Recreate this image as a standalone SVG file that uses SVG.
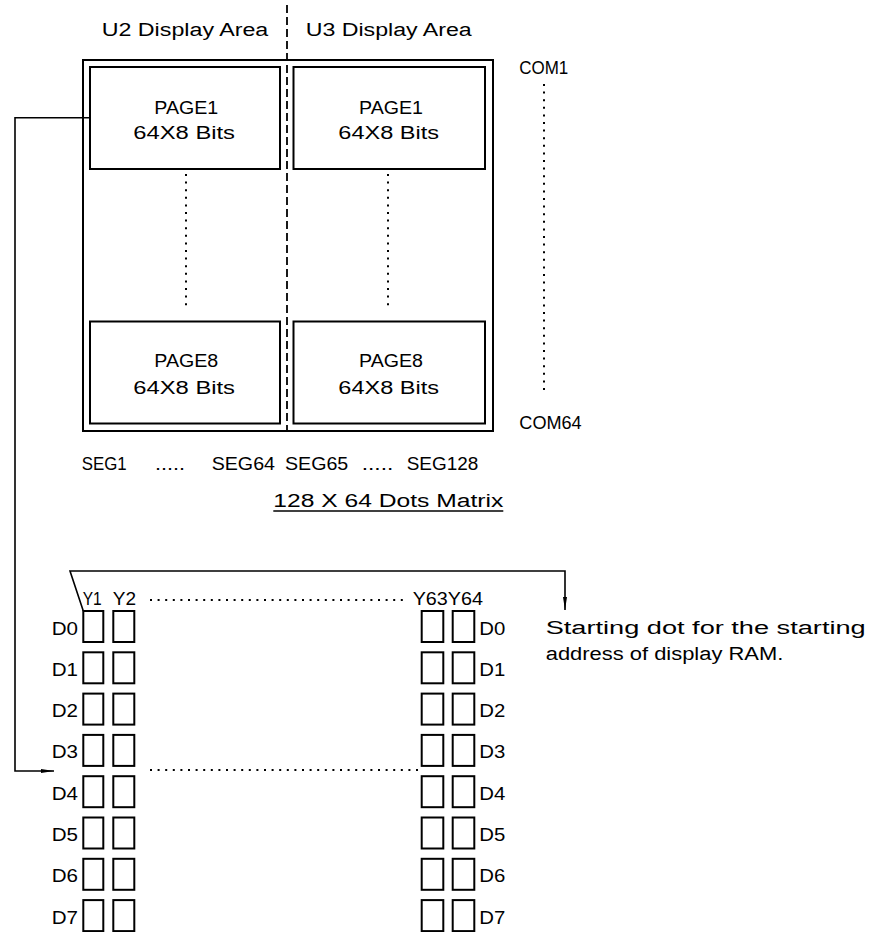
<svg xmlns="http://www.w3.org/2000/svg" width="869" height="932" viewBox="0 0 869 932">
<style>
  .t { font-family: "Liberation Sans", Arial, sans-serif; font-size: 18px; fill: #000; }
  .box { fill: none; stroke: #000; stroke-width: 2; }
  .cell { fill: none; stroke: #000; stroke-width: 2; }
  .line { fill: none; stroke: #000; stroke-width: 1.6; }
  .dot { fill: none; stroke: #000; stroke-width: 2; stroke-dasharray: 2 5.6; }
  .dash { fill: none; stroke: #000; stroke-width: 1.8; stroke-dasharray: 8 4; }
</style>
<defs>
  <marker id="arr" markerWidth="14" markerHeight="6" refX="13" refY="3" orient="auto" markerUnits="userSpaceOnUse">
    <path d="M0,1 L13,3 L0,5 Z" fill="#000"/>
  </marker>
</defs>
<rect width="869" height="932" fill="#fff"/>

<g id="labels-top">
  <text class="t" x="101.7" y="36" textLength="166.6" lengthAdjust="spacingAndGlyphs">U2 Display Area</text>
  <text class="t" x="305.7" y="36" textLength="166" lengthAdjust="spacingAndGlyphs">U3 Display Area</text>
</g>

<g id="display-area">
  <rect class="box" x="83" y="60" width="410" height="371"/>
  <line class="dash" x1="287" y1="5" x2="287" y2="431"/>
</g>

<g id="u2-page1">
  <rect class="box" x="90" y="67" width="190" height="102"/>
  <text class="t" x="154.3" y="114" textLength="64" lengthAdjust="spacingAndGlyphs">PAGE1</text>
  <text class="t" x="133.3" y="139" textLength="101.7" lengthAdjust="spacingAndGlyphs">64X8 Bits</text>
</g>
<g id="u3-page1">
  <rect class="box" x="293.5" y="67" width="191.5" height="102"/>
  <text class="t" x="359" y="114" textLength="64" lengthAdjust="spacingAndGlyphs">PAGE1</text>
  <text class="t" x="338.3" y="139" textLength="100.7" lengthAdjust="spacingAndGlyphs">64X8 Bits</text>
</g>
<g id="u2-page8">
  <rect class="box" x="90" y="321.5" width="190" height="102"/>
  <text class="t" x="154.3" y="367" textLength="64" lengthAdjust="spacingAndGlyphs">PAGE8</text>
  <text class="t" x="133.3" y="394" textLength="101.7" lengthAdjust="spacingAndGlyphs">64X8 Bits</text>
</g>
<g id="u3-page8">
  <rect class="box" x="293.5" y="321.5" width="191.5" height="102"/>
  <text class="t" x="359" y="367" textLength="64" lengthAdjust="spacingAndGlyphs">PAGE8</text>
  <text class="t" x="338.3" y="394" textLength="100.7" lengthAdjust="spacingAndGlyphs">64X8 Bits</text>
</g>

<g id="page-dots">
  <line class="dot" x1="186" y1="174" x2="186" y2="310"/>
  <line class="dot" x1="388" y1="174" x2="388" y2="310"/>
</g>

<g id="com">
  <text class="t" x="519.3" y="74" textLength="49" lengthAdjust="spacingAndGlyphs">COM1</text>
  <line class="dot" x1="544" y1="84" x2="544" y2="390"/>
  <text class="t" x="519.3" y="429" textLength="62.4" lengthAdjust="spacingAndGlyphs">COM64</text>
</g>

<g id="seg">
  <text class="t" x="81.7" y="470" textLength="45" lengthAdjust="spacingAndGlyphs">SEG1</text>
  <text class="t" x="155" y="470" textLength="30" lengthAdjust="spacingAndGlyphs">.....</text>
  <text class="t" x="211.7" y="470" textLength="63.3" lengthAdjust="spacingAndGlyphs">SEG64</text>
  <text class="t" x="285" y="470" textLength="63.3" lengthAdjust="spacingAndGlyphs">SEG65</text>
  <text class="t" x="361.7" y="470" textLength="31.6" lengthAdjust="spacingAndGlyphs">.....</text>
  <text class="t" x="406.7" y="470" textLength="71.6" lengthAdjust="spacingAndGlyphs">SEG128</text>
</g>

<g id="title">
  <text class="t" x="273.3" y="507" textLength="230" lengthAdjust="spacingAndGlyphs">128 X 64 Dots Matrix</text>
  <line x1="273.3" y1="511" x2="503.3" y2="511" stroke="#000" stroke-width="1.4"/>
</g>

<g id="ram-columns">
  <text class="t" x="82.7" y="605" textLength="19" lengthAdjust="spacingAndGlyphs">Y1</text>
  <text class="t" x="112.7" y="605" textLength="23.3" lengthAdjust="spacingAndGlyphs">Y2</text>
  <text class="t" x="412.7" y="605" textLength="70.3" lengthAdjust="spacingAndGlyphs">Y63Y64</text>
  <line class="dot" x1="150" y1="600" x2="408" y2="600"/>
  <line class="dot" x1="150" y1="770" x2="420" y2="770"/>
</g>

<g id="ram-cells">
  <rect class="cell" x="83.3" y="611" width="20" height="31"/><rect class="cell" x="113.3" y="611" width="21" height="31"/>
  <rect class="cell" x="421.7" y="611" width="21.6" height="31"/><rect class="cell" x="452.7" y="611" width="21.6" height="31"/>
  <rect class="cell" x="83.3" y="652.3" width="20" height="31"/><rect class="cell" x="113.3" y="652.3" width="21" height="31"/>
  <rect class="cell" x="421.7" y="652.3" width="21.6" height="31"/><rect class="cell" x="452.7" y="652.3" width="21.6" height="31"/>
  <rect class="cell" x="83.3" y="693.6" width="20" height="31"/><rect class="cell" x="113.3" y="693.6" width="21" height="31"/>
  <rect class="cell" x="421.7" y="693.6" width="21.6" height="31"/><rect class="cell" x="452.7" y="693.6" width="21.6" height="31"/>
  <rect class="cell" x="83.3" y="734.9" width="20" height="31"/><rect class="cell" x="113.3" y="734.9" width="21" height="31"/>
  <rect class="cell" x="421.7" y="734.9" width="21.6" height="31"/><rect class="cell" x="452.7" y="734.9" width="21.6" height="31"/>
  <rect class="cell" x="83.3" y="776.2" width="20" height="31"/><rect class="cell" x="113.3" y="776.2" width="21" height="31"/>
  <rect class="cell" x="421.7" y="776.2" width="21.6" height="31"/><rect class="cell" x="452.7" y="776.2" width="21.6" height="31"/>
  <rect class="cell" x="83.3" y="817.5" width="20" height="31"/><rect class="cell" x="113.3" y="817.5" width="21" height="31"/>
  <rect class="cell" x="421.7" y="817.5" width="21.6" height="31"/><rect class="cell" x="452.7" y="817.5" width="21.6" height="31"/>
  <rect class="cell" x="83.3" y="858.8" width="20" height="31"/><rect class="cell" x="113.3" y="858.8" width="21" height="31"/>
  <rect class="cell" x="421.7" y="858.8" width="21.6" height="31"/><rect class="cell" x="452.7" y="858.8" width="21.6" height="31"/>
  <rect class="cell" x="83.3" y="900.1" width="20" height="31"/><rect class="cell" x="113.3" y="900.1" width="21" height="31"/>
  <rect class="cell" x="421.7" y="900.1" width="21.6" height="31"/><rect class="cell" x="452.7" y="900.1" width="21.6" height="31"/>
</g>

<g id="d-labels">
  <text class="t" x="51.7" y="634.5" textLength="26.3" lengthAdjust="spacingAndGlyphs">D0</text>
  <text class="t" x="51.7" y="675.8" textLength="26.3" lengthAdjust="spacingAndGlyphs">D1</text>
  <text class="t" x="51.7" y="717.1" textLength="26.3" lengthAdjust="spacingAndGlyphs">D2</text>
  <text class="t" x="51.7" y="758.4" textLength="26.3" lengthAdjust="spacingAndGlyphs">D3</text>
  <text class="t" x="51.7" y="799.7" textLength="26.3" lengthAdjust="spacingAndGlyphs">D4</text>
  <text class="t" x="51.7" y="841" textLength="26.3" lengthAdjust="spacingAndGlyphs">D5</text>
  <text class="t" x="51.7" y="882.3" textLength="26.3" lengthAdjust="spacingAndGlyphs">D6</text>
  <text class="t" x="51.7" y="923.6" textLength="26.3" lengthAdjust="spacingAndGlyphs">D7</text>
  <text class="t" x="479.3" y="634.5" textLength="26" lengthAdjust="spacingAndGlyphs">D0</text>
  <text class="t" x="479.3" y="675.8" textLength="26" lengthAdjust="spacingAndGlyphs">D1</text>
  <text class="t" x="479.3" y="717.1" textLength="26" lengthAdjust="spacingAndGlyphs">D2</text>
  <text class="t" x="479.3" y="758.4" textLength="26" lengthAdjust="spacingAndGlyphs">D3</text>
  <text class="t" x="479.3" y="799.7" textLength="26" lengthAdjust="spacingAndGlyphs">D4</text>
  <text class="t" x="479.3" y="841" textLength="26" lengthAdjust="spacingAndGlyphs">D5</text>
  <text class="t" x="479.3" y="882.3" textLength="26" lengthAdjust="spacingAndGlyphs">D6</text>
  <text class="t" x="479.3" y="923.6" textLength="26" lengthAdjust="spacingAndGlyphs">D7</text>
</g>

<g id="note">
  <text class="t" x="545.7" y="634" textLength="320" lengthAdjust="spacingAndGlyphs">Starting dot for the starting</text>
  <text class="t" x="545.7" y="660" textLength="237.6" lengthAdjust="spacingAndGlyphs">address of display RAM.</text>
</g>

<g id="connectors">
  <polyline class="line" points="90,117.7 15,117.7 15,771 54,771" marker-end="url(#arr)"/>
  <polyline class="line" points="83.3,611 70,571 565,571 565,610" marker-end="url(#arr)"/>
</g>
</svg>
